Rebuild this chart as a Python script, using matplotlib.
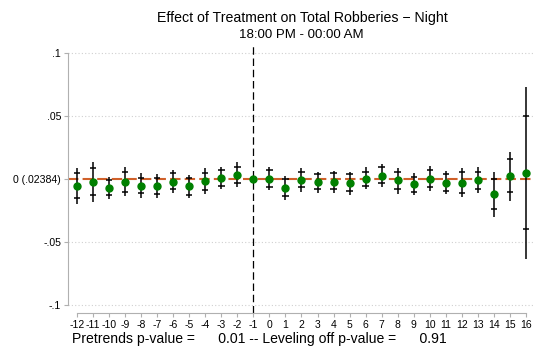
import matplotlib
matplotlib.use("Agg")
import matplotlib.pyplot as plt
import numpy as np

plt.rcParams['font.family'] = ['Liberation Sans', 'DejaVu Sans']

# Event-time coefficients (relative to period -1) with two confidence bands
periods = [-12, -11, -10, -9, -8, -7, -6, -5, -4, -3, -2, -1,
           0, 1, 2, 3, 4, 5, 6, 7, 8, 9, 10, 11, 12, 13, 14, 15, 16]
coef = [-0.0058, -0.0024, -0.0076, -0.0024, -0.0056, -0.0058, -0.0024, -0.0058,
        -0.0018, 0.0003, 0.0029, 0.0,
        0.0, -0.0074, -0.0010, -0.0029, -0.0029, -0.0037, 0.0, 0.0021, -0.0010,
        -0.0042, 0.0, -0.0032, -0.0032, -0.0010, -0.0121, 0.0024, 0.0048]
inner_lo = [-0.0156, -0.0129, -0.0129, -0.0103, -0.0116, -0.0121, -0.0084, -0.0129,
            -0.0090, -0.0058, -0.0037, None,
            -0.0063, -0.0135, -0.0068, -0.0084, -0.0084, -0.0095, -0.0058, -0.0032,
            -0.0084, -0.0103, -0.0063, -0.0095, -0.0111, -0.0084, -0.0240, -0.0106, -0.0399]
inner_hi = [0.0043, 0.0083, -0.0010, 0.0056, 0.0008, 0.0003, 0.0043, 0.0003,
            0.0048, 0.0069, 0.0095, None,
            0.0069, -0.0002, 0.0051, 0.0037, 0.0043, 0.0035, 0.0056, 0.0090,
            0.0056, 0.0016, 0.0069, 0.0037, 0.0051, 0.0056, -0.0002, 0.0154, 0.0498]
outer_lo = [-0.0201, -0.0183, -0.0163, -0.0137, -0.0156, -0.0156, -0.0116, -0.0156,
            -0.0121, -0.0084, -0.0068, None,
            -0.0090, -0.0169, -0.0103, -0.0116, -0.0116, -0.0129, -0.0084, -0.0063,
            -0.0121, -0.0129, -0.0095, -0.0121, -0.0143, -0.0116, -0.0306, -0.0175, -0.0637]
outer_hi = [0.0083, 0.0135, 0.0016, 0.0090, 0.0043, 0.0037, 0.0069, 0.0029,
            0.0083, 0.0095, 0.0130, None,
            0.0095, 0.0021, 0.0083, 0.0056, 0.0063, 0.0056, 0.0095, 0.0117,
            0.0083, 0.0048, 0.0101, 0.0063, 0.0083, 0.0095, 0.0056, 0.0214, 0.0728]

ytick_vals = [0.1, 0.05, 0.0, -0.05, -0.1]
ytick_labels = [".1", ".05", "0 (.02384)", "-.05", "-.1"]
title = "Effect of Treatment on Total Robberies \u2212 Night"
subtitle = "18:00 PM - 00:00 AM"
pretrend_p = "0.01"
leveloff_p = "0.91"

fig = plt.figure(figsize=(5.38, 3.52), dpi=100)
ax = fig.add_axes([68 / 538, 39 / 352, (534 - 68) / 538, (313 - 45) / 352])

ax.set_xlim(-12.56, 16.5)
ax.set_ylim(-0.1066, 0.106)

# dotted horizontal grid
for v in ytick_vals:
    if v != 0:
        ax.axhline(v, color='#d0d0d0', lw=0.8, ls=(0, (1, 2)), zorder=0)

# zero reference line
ax.axhline(0, color='#d0602a', lw=1.5, ls=(0, (5, 2)), zorder=1)
# treatment onset
ax.axvline(-1, color='black', lw=0.9, ls=(0, (6, 3)), zorder=1)

# confidence bands
idx = [i for i, lo in enumerate(outer_lo) if lo is not None]
xs = np.array([periods[i] for i in idx])
ax.vlines(xs, [outer_lo[i] for i in idx], [outer_hi[i] for i in idx],
          color='black', lw=1.1, zorder=2)
cap_half = 0.2
for i in idx:
    for v in (inner_lo[i], inner_hi[i]):
        ax.hlines(v, periods[i] - cap_half, periods[i] + cap_half,
                  color='black', lw=1.1, zorder=2)

ax.plot(periods, coef, 'o', color='#008000', ms=5, mec='#008000', zorder=3)

# axes styling
for s in ('top', 'right'):
    ax.spines[s].set_visible(False)
ax.spines['left'].set_color('#b0b0b0')
ax.spines['left'].set_bounds(-0.1, 0.1)
ax.spines['bottom'].set_color('#b0b0b0')
ax.spines['bottom'].set_bounds(-12, 16)

ax.set_yticks(ytick_vals)
ax.set_yticklabels(ytick_labels, fontsize=7.6)
ax.set_xticks(periods)
ax.set_xticklabels([str(p) for p in periods], fontsize=7.5)
ax.tick_params(axis='both', colors='#b0b0b0', labelcolor='black', length=3, width=0.8, pad=2)

fig.text(302 / 538, 1 - 18 / 352, title, ha='center', va='center', fontsize=10.2)
fig.text(301 / 538, 1 - 35 / 352, subtitle, ha='center', va='center', fontsize=9.5)
fig.text(72 / 538, 1 - 339 / 352,
         "Pretrends p-value =      " + pretrend_p + " -- Leveling off p-value =      " + leveloff_p,
         ha='left', va='center', fontsize=10.1)

fig.savefig("out.png", dpi=100)
